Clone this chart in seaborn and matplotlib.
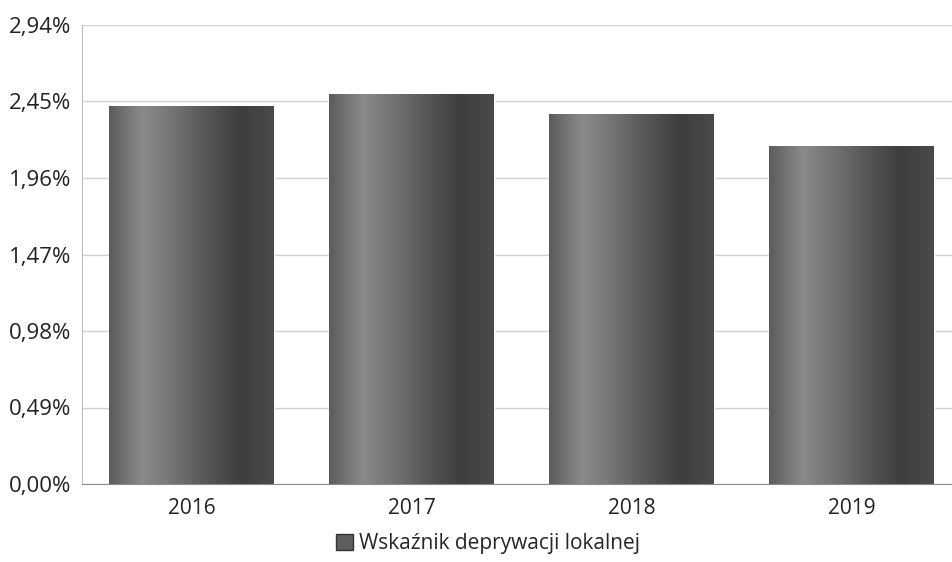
import numpy as np
import pandas as pd
import seaborn as sns
import matplotlib.pyplot as plt
from matplotlib.colors import LinearSegmentedColormap
from matplotlib.patches import Patch

years = ["2016", "2017", "2018", "2019"]
values = [2.42, 2.50, 2.37, 2.165]
ticks = [0.0, 0.49, 0.98, 1.47, 1.96, 2.45, 2.94]
series_name = "Wskaźnik deprywacji lokalnej"

df = pd.DataFrame({"rok": years, "wartosc": values})

sns.set_style("white")
plt.rcParams["font.family"] = ["Open Sans", "DejaVu Sans"]

fig = plt.figure(figsize=(9.52, 5.62), dpi=100)
ax = fig.add_axes([82 / 952, 1 - 484 / 562, 870 / 952, (484 - 25) / 562])

sns.barplot(data=df, x="rok", y="wartosc", color="#5e5e5e", width=0.75, ax=ax)

# gray cylinder-like shading on every bar
cmap = LinearSegmentedColormap.from_list(
    "bar", ["#5c5c5c", "#8a8a8a", "#727272", "#555555", "#3e3e3e", "#4a4a4a"])
grad = np.linspace(0, 1, 256).reshape(1, -1)
for p in ax.patches:
    x0, y0 = p.get_x(), p.get_y()
    im = ax.imshow(grad, cmap=cmap, aspect="auto", zorder=p.get_zorder() + 0.1,
                   extent=[x0, x0 + p.get_width(), y0, y0 + p.get_height()])
    im.set_clip_path(p)

ax.set_xlim(-0.5, 3.455)
ax.set_ylim(0, 2.94)
ax.set_yticks(ticks)
ax.set_yticklabels([f"{t:.2f}%".replace(".", ",") for t in ticks])
ax.set_xlabel("")
ax.set_ylabel("")
ax.grid(axis="y", color="#d2d2d2", linewidth=1)
ax.set_axisbelow(True)
for s in ["top", "right"]:
    ax.spines[s].set_visible(False)
ax.spines["left"].set_color("#bdbdbd")
ax.spines["bottom"].set_color("#8c8c8c")
ax.tick_params(axis="y", labelsize=16, pad=8, length=0, colors="#222222")
ax.tick_params(axis="x", labelsize=15, pad=10, length=0, colors="#222222")

fig.legend(handles=[Patch(facecolor="#5e5e5e", edgecolor="#333333", label=series_name)],
           loc="center", bbox_to_anchor=(488 / 952, 1 - 544 / 562), frameon=False,
           fontsize=15, handlelength=0.8, handleheight=0.8, handletextpad=0.3)

fig.savefig("out.png", dpi=100)
